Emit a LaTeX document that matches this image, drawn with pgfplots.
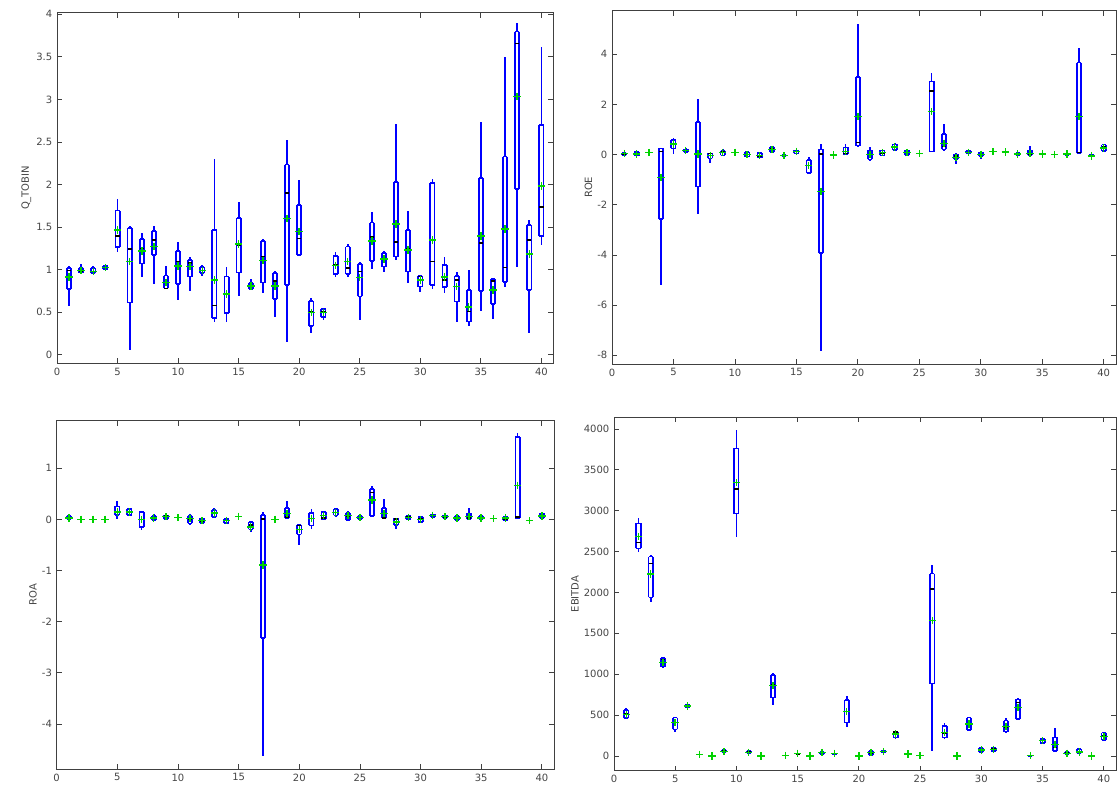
\documentclass[border=0pt]{standalone}
\usepackage{pgfplots}
\usepackage{pgfplotstable}
\pgfplotsset{compat=1.18}
\usepackage{fontspec}
\setmainfont{DejaVu Sans}
\definecolor{axgray}{RGB}{64,64,64}
\definecolor{lblgray}{RGB}{70,70,70}
\definecolor{bxblue}{RGB}{0,0,255}
\definecolor{mgreen}{RGB}{0,210,0}

% columns: position, lower whisker, Q1, median, Q3, upper whisker, mean
\pgfplotstableread{
x lw q1 med q3 uw mn
1 0.575 0.77 0.99 1.02 1.04 0.915
2 0.96 0.966 0.98 1.025 1.07 0.99
3 0.95 0.96 0.98 1.02 1.04 0.98
4 1.0 1.005 1.025 1.04 1.06 1.025
5 1.205 1.268 1.393 1.694 1.83 1.467
6 0.06 0.614 1.24 1.487 1.514 1.095
7 0.908 1.072 1.248 1.36 1.43 1.22
8 0.833 1.17 1.35 1.455 1.51 1.27
9 0.78 0.78 0.78 0.93 1.045 0.85
10 0.645 0.833 1.095 1.217 1.32 1.045
11 0.755 0.919 1.076 1.115 1.146 1.037
12 0.92 0.958 0.99 1.03 1.056 0.99
13 0.38 0.43 0.58 1.467 2.297 0.88
14 0.38 0.489 0.716 0.919 1.03 0.716
15 0.69 0.966 1.29 1.604 1.796 1.30
16 0.763 0.77 0.81 0.84 0.888 0.81
17 0.724 0.849 1.154 1.338 1.358 1.107
18 0.44 0.653 0.87 0.958 0.99 0.81
19 0.145 0.822 1.90 2.234 2.52 1.604
20 1.174 1.174 1.365 1.757 2.05 1.447
21 0.254 0.336 0.509 0.634 0.665 0.497
22 0.403 0.442 0.509 0.536 0.552 0.497
23 0.908 0.947 1.056 1.162 1.213 1.052
24 0.908 0.947 1.017 1.272 1.30 1.095
25 0.41 0.685 0.978 1.064 1.095 0.908
26 1.005 1.103 1.381 1.553 1.678 1.338
27 0.978 1.037 1.123 1.193 1.221 1.123
28 1.115 1.154 1.322 2.027 2.711 1.538
29 0.849 0.978 1.24 1.467 1.69 1.232
30 0.732 0.80 0.919 0.927 0.935 0.88
31 0.77 0.822 1.095 2.015 2.06 1.35
32 0.724 0.794 0.88 1.052 1.146 0.912
33 0.391 0.626 0.88 0.927 0.974 0.802
34 0.34 0.391 0.509 0.763 0.998 0.559
35 0.52 0.751 1.311 2.074 2.731 1.397
36 0.419 0.599 0.869 0.888 0.90 0.763
37 0.794 0.857 1.025 2.328 3.50 1.475
38 1.037 1.944 3.658 3.795 3.893 3.032
39 0.262 0.763 1.35 1.522 1.584 1.182
40 1.287 1.397 1.733 2.696 3.619 1.984
}\tQ

\pgfplotstableread{
x lw q1 med q3 uw mn
1 -0.05 -0.02 0.03 0.08 0.12 0.04
2 -0.1 -0.04 0.02 0.1 0.14 0.03
3 nan nan nan nan nan 0.08
4 -5.21 -2.58 0.12 0.25 0.28 -0.92
5 0.03 0.25 0.43 0.58 0.65 0.43
6 0.08 0.11 0.16 0.21 0.25 0.16
7 -2.38 -1.28 0.03 1.29 2.2 0.03
8 -0.32 -0.15 0.04 0.05 0.08 -0.04
9 -0.04 -0.03 0.1 0.15 0.21 0.08
10 nan nan nan nan nan 0.09
11 -0.1 -0.08 0.01 0.1 0.13 0.0
12 -0.15 -0.12 -0.08 0.07 0.1 -0.04
13 0.05 0.11 0.24 0.32 0.36 0.21
14 -0.08 -0.07 -0.03 0.0 0.02 -0.04
15 0.03 0.05 0.12 0.17 0.22 0.13
16 -0.74 -0.74 -0.44 -0.21 -0.11 -0.44
17 -7.83 -3.93 0.03 0.21 0.41 -1.47
18 -0.03 -0.02 0.0 0.01 0.02 -0.01
19 0.03 0.03 0.05 0.29 0.43 0.12
20 0.32 0.36 0.49 3.1 5.21 1.515
21 -0.27 -0.19 0.01 0.17 0.29 0.01
22 -0.04 -0.03 0.04 0.17 0.21 0.08
23 0.15 0.19 0.32 0.41 0.45 0.31
24 -0.02 -0.01 0.08 0.17 0.21 0.08
25 nan nan nan nan nan 0.04
26 0.12 0.12 2.54 2.92 3.24 1.71
27 0.16 0.21 0.32 0.81 1.21 0.45
28 -0.37 -0.19 -0.05 0.01 0.05 -0.11
29 0.03 0.05 0.09 0.15 0.19 0.09
30 -0.19 -0.05 0.01 0.09 0.12 0.01
31 nan nan nan nan nan 0.12
32 0.07 0.08 0.1 0.12 0.13 0.1
33 -0.04 -0.03 0.03 0.07 0.08 0.03
34 -0.03 -0.03 0.01 0.17 0.35 0.05
35 0.0 0.01 0.02 0.03 0.04 0.02
36 nan nan nan nan nan 0.0
37 -0.02 -0.01 0.02 0.04 0.05 0.03
38 0.03 0.05 0.08 3.67 4.27 1.515
39 -0.19 -0.08 -0.04 -0.01 0.03 -0.05
40 0.12 0.15 0.31 0.4 0.43 0.27
}\tE

\pgfplotstableread{
x lw q1 med q3 uw mn
1 -0.01 0.0 0.03 0.065 0.08 0.03
2 nan nan nan nan nan 0.0
3 nan nan nan nan nan 0.0
4 nan nan nan nan nan 0.0
5 0.013 0.091 0.143 0.254 0.37 0.143
6 0.08 0.091 0.143 0.209 0.23 0.143
7 -0.2 -0.15 0.0 0.15 0.16 0.0
8 -0.01 -0.007 0.026 0.065 0.1 0.026
9 -0.01 0.0 0.072 0.078 0.1 0.052
10 nan nan nan nan nan 0.033
11 -0.11 -0.078 0.013 0.065 0.1 0.013
12 -0.085 -0.072 -0.039 0.02 0.03 -0.026
13 0.02 0.052 0.13 0.183 0.22 0.124
14 -0.085 -0.065 -0.02 0.013 0.026 -0.02
15 nan nan nan nan nan 0.06
16 -0.25 -0.196 -0.11 -0.052 -0.03 -0.15
17 -4.63 -2.32 0.013 0.085 0.15 -0.887
18 nan nan nan nan nan 0.0
19 0.02 0.033 0.046 0.228 0.37 0.117
20 -0.5 -0.293 -0.117 -0.104 -0.104 -0.196
21 -0.196 -0.117 0.02 0.13 0.21 0.02
22 -0.013 0.0 0.033 0.15 0.17 0.078
23 0.052 0.078 0.137 0.209 0.23 0.137
24 -0.026 -0.013 0.065 0.13 0.156 0.078
25 0.005 0.013 0.04 0.065 0.07 0.04
26 0.065 0.072 0.528 0.593 0.658 0.378
27 0.02 0.033 0.033 0.228 0.4 0.117
28 -0.196 -0.104 0.013 0.02 0.03 -0.046
29 -0.013 0.013 0.052 0.072 0.085 0.04
30 -0.065 -0.052 0.02 0.052 0.065 0.0
31 0.045 0.052 0.078 0.1 0.11 0.078
32 0.02 0.026 0.052 0.078 0.085 0.052
33 -0.013 -0.007 0.033 0.065 0.1 0.026
34 0.0 0.0 0.033 0.117 0.228 0.052
35 -0.005 0.0 0.033 0.065 0.07 0.026
36 nan nan nan nan nan 0.013
37 -0.026 -0.02 0.007 0.052 0.06 0.026
38 0.013 0.033 0.046 1.617 1.695 0.665
39 nan nan nan nan nan -0.026
40 0.013 0.02 0.065 0.117 0.13 0.065
}\tA

\pgfplotstableread{
x lw q1 med q3 uw mn
1 449 461 510 563 583 510
2 2500 2540 2610 2846 2907 2683
3 1888 1941 2357 2438 2459 2226
4 1085 1093 1182 1195 1205 1146
5 290 326 408 469 480 408
6 590 595 612 628 632 612
7 nan nan nan nan nan 20
8 nan nan nan nan nan 0
9 40 45 57 73 78 53
10 2683 2964 3266 3763 3988 3344
11 28 33 53 61 68 45
12 -4 -2 2 4 6 0
13 624 714 869 987 1011 860
14 nan nan nan nan nan 4
15 18 20 24 30 35 33
16 nan nan nan nan nan 0
17 20 24 41 53 58 41
18 24 26 29 32 35 33
19 351 408 542 685 734 542
20 nan nan nan nan nan 0
21 4 8 29 65 70 41
22 45 48 53 57 60 53
23 215 224 290 298 306 269
24 nan nan nan nan nan 24
25 nan nan nan nan nan 4
26 61 885 2039 2230 2336 1660
27 216 224 277 367 400 290
28 -4 -2 0 3 5 0
29 310 318 391 469 480 391
30 40 49 73 98 105 73
31 55 61 82 102 108 82
32 277 298 347 432 461 359
33 440 449 656 693 705 595
34 0 2 4 6 8 4
35 148 155 188 204 216 188
36 53 61 102 228 338 143
37 20 24 41 53 58 33
38 28 33 53 86 95 49
39 nan nan nan nan nan 0
40 188 196 245 285 298 237
}\tB

\pgfplotsset{
  gp/.style={
    scale only axis, anchor=south west,
    xmin=0, xmax=41, xtick={0,5,...,40},
    axis line style={draw=axgray},
    tick style={draw=axgray, line width=0.6pt},
    major tick length=3.8pt,
    tick align=inside,
    ticklabel style={font=\fontsize{7.5}{9}\selectfont, text=lblgray},
    label style={font=\fontsize{7.5}{9}\selectfont, text=lblgray},
    ylabel style={yshift=-3pt},
    /pgf/number format/assume math mode=true,
    /pgf/number format/1000 sep={},
    scaled ticks=false,
  },
  seg/.style={draw=none, mark=none, error bars/.cd, y dir=#1, y explicit, error mark=none,
    error bar style={draw=bxblue, line width=1.3pt}},
  hbar/.style={only marks, mark=-, mark size=1.6pt, mark options={draw=#1, line width=1.2pt}},
  mn/.style={only marks, mark=+, mark size=2.8pt, mark options={draw=mgreen, line width=1.1pt}},
}

% box, whiskers, median and mean of every row of a table
\newcommand{\boxes}[1]{%
  \addplot[seg=plus] table[x expr=\thisrow{x}-0.175, y=q1, y error plus expr=\thisrow{q3}-\thisrow{q1}] {#1};
  \addplot[seg=plus] table[x expr=\thisrow{x}+0.175, y=q1, y error plus expr=\thisrow{q3}-\thisrow{q1}] {#1};
  \addplot[hbar=bxblue] table[x=x, y=q1] {#1};
  \addplot[hbar=bxblue] table[x=x, y=q3] {#1};
  \addplot[seg=plus] table[x=x, y=q3, y error plus expr=\thisrow{uw}-\thisrow{q3}] {#1};
  \addplot[seg=minus] table[x=x, y=q1, y error minus expr=\thisrow{q1}-\thisrow{lw}] {#1};
  \addplot[hbar=black] table[x=x, y=med] {#1};
  \addplot[mn] table[x=x, y=mn] {#1};
}

\begin{document}
\begin{tikzpicture}
\fill[white] (0,0) rectangle (837.75pt,591pt);
\path[use as bounding box] (0,0) rectangle (837.75pt,591pt);

\begin{axis}[gp, at={(42.75pt,318.5pt)}, width=372.4pt, height=263.1pt,
  ymin=-0.1, ymax=4.02, ytick={0,0.5,...,4}, ylabel={Q\_TOBIN}]
\boxes{\tQ}
\end{axis}

\begin{axis}[gp, at={(459pt,318pt)}, width=378pt, height=265pt,
  ymin=-8.35, ymax=5.74, ytick={-8,-6,...,4}, ylabel={ROE}]
\boxes{\tE}
\end{axis}

\begin{axis}[gp, at={(42.5pt,14.25pt)}, width=373pt, height=261.2pt,
  ymin=-4.88, ymax=1.93, ytick={-4,-3,...,1}, ylabel={ROA}]
\boxes{\tA}
\end{axis}

\begin{axis}[gp, at={(460.5pt,13pt)}, width=376.5pt, height=265pt,
  ymin=-180, ymax=4143, ytick={0,500,...,4000}, ylabel={EBITDA}]
\boxes{\tB}
\end{axis}
\end{tikzpicture}
\end{document}
